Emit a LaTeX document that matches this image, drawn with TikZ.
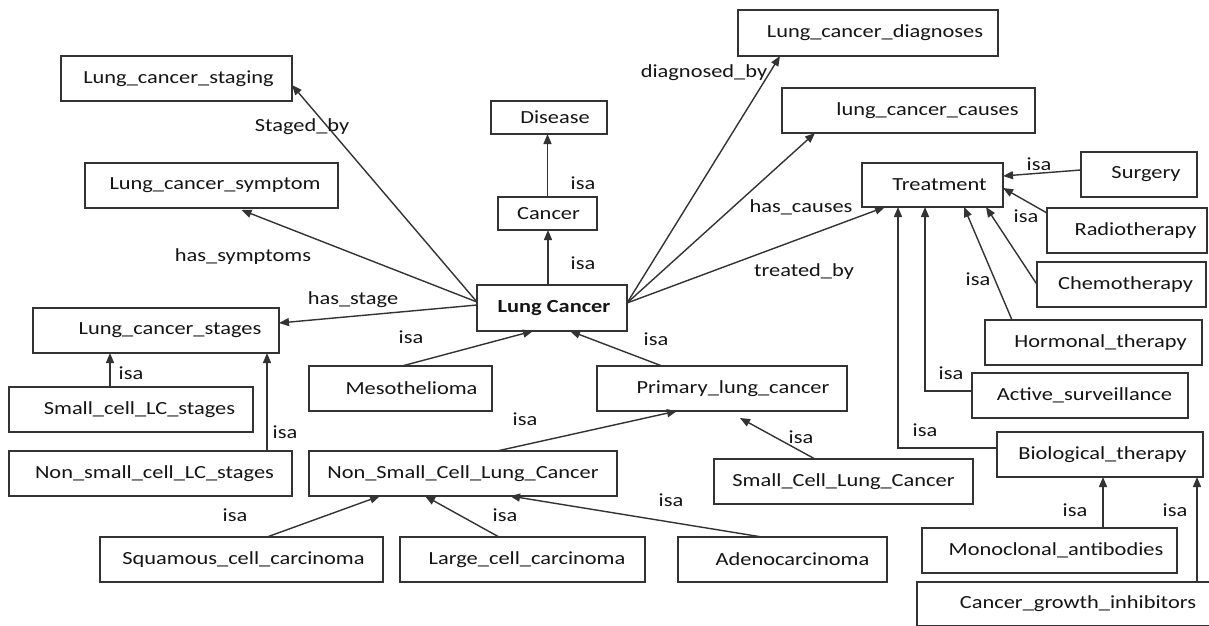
\documentclass[tikz,border=0pt]{standalone}
\usepackage{fontspec}
\setmainfont{Carlito}[FakeStretch=1.21]
\usetikzlibrary{arrows.meta}
\definecolor{ln}{HTML}{333333}
\definecolor{tx}{HTML}{151515}
\tikzset{
 bx/.style={draw=ln, line width=1.4pt, inner sep=0pt, outer sep=0pt, text=tx, font=\fontsize{18.5}{22}\selectfont},
 lbl/.style={inner sep=0pt, text=tx, font=\fontsize{18.5}{22}\selectfont},
 arr/.style={draw=ln, line width=1.4pt, -{Triangle[length=10pt,width=8pt]}},
 elb/.style={draw=ln, line width=1.4pt, -{Triangle[length=10pt,width=8pt]}, rounded corners=0pt},
}
% name, x1, y1, x2, y2, left space (2*offset), text
\newcommand{\bx}[7]{\node[bx, minimum width={#4-#2}, minimum height={#5-#3}] (#1) at ({(#2+#4)/2},{(#3+#5)/2}) {\hspace*{#6pt}#7};}
\begin{document}
\begin{tikzpicture}[x=1pt,y=-1pt]
\useasboundingbox (0,0) rectangle (1209,625);
\clip (0,0) rectangle (1209,625);
\fill[white] (0,0) rectangle (1209,625);
% boxes
\bx{stag}{61}{56}{292}{101}{4}{Lung\_cancer\_staging}
\bx{symp}{85}{163}{338}{208}{7}{Lung\_cancer\_symptom}
\bx{dis}{491}{101}{607}{134}{12}{Disease}
\bx{can}{498}{197}{597}{230}{2}{Cancer}
\bx{diag}{738}{10}{998}{56}{14}{Lung\_cancer\_diagnoses}
\bx{caus}{782}{88}{1035}{133}{38}{lung\_cancer\_causes}
\bx{treat}{862}{163}{1003}{207}{14}{Treatment}
\bx{surg}{1081}{152}{1197}{197}{14}{Surgery}
\bx{radio}{1047}{208}{1207}{253}{17}{Radiotherapy}
\bx{chemo}{1037}{262}{1206}{307}{8}{Chemotherapy}
\bx{horm}{985}{320}{1202}{365}{14}{Hormonal\_therapy}
\bx{act}{972}{373}{1188}{418}{9}{Active\_surveillance}
\bx{bio}{997}{432}{1203}{477}{5}{Biological\_therapy}
\bx{mono}{922}{528}{1177}{573}{13}{Monoclonal\_antibodies}
\bx{cgi}{917}{582}{1239}{626}{0}{Cancer\_growth\_inhibitors}
\bx{LC}{477}{285}{627}{331}{4}{\bfseries Lung Cancer}
\bx{stages}{33}{308}{279}{353}{28}{Lung\_cancer\_stages}
\bx{scs}{9}{387}{253}{432}{17}{Small\_cell\_LC\_stages}
\bx{nss}{9}{451}{292}{496}{8}{Non\_small\_cell\_LC\_stages}
\bx{meso}{309}{366}{492}{411}{22}{Mesothelioma}
\bx{prim}{597}{366}{847}{411}{22}{Primary\_lung\_cancer}
\bx{nsclc}{309}{451}{617}{496}{0}{Non\_Small\_Cell\_Lung\_Cancer}
\bx{sclc}{714}{459}{973}{504}{0}{Small\_Cell\_Lung\_Cancer}
\bx{squam}{100}{537}{383}{582}{4}{Squamous\_cell\_carcinoma}
\bx{large}{400}{537}{645}{582}{9}{Large\_cell\_carcinoma}
\bx{adeno}{678}{537}{887}{582}{20}{Adenocarcinoma}
% connectors from Lung Cancer
\draw[arr] ([yshift=6pt]LC.west) -- ([yshift=-6.5pt]stag.east);
\draw[arr] ([yshift=6pt]LC.west) -- ([xshift=30pt,yshift=-2pt]symp.south);
\draw[arr] ([yshift=3pt]LC.west) -- ([yshift=7.5pt]stages.east);
\draw[arr] ([xshift=-4pt]LC.north) -- ([xshift=-4pt]LC.north |- can.south);
\draw[arr] (can.north) -- (can.north |- dis.south);
\draw[arr] ([yshift=5pt]LC.east) -- ([xshift=-88pt]diag.south);
\draw[arr] ([yshift=5pt]LC.east) -- ([xshift=33pt]caus.south west);
\draw[arr] ([yshift=5pt]LC.east) -- ([xshift=23pt]treat.south west);
% treatment subclasses
\draw[arr] ([yshift=4.5pt]surg.west) -- ([yshift=9pt]treat.east);
\draw[arr] ([yshift=-5pt]radio.north west) -- ([yshift=-3pt]treat.east);
\draw[arr] (chemo.west) -- ([xshift=124pt]treat.south west);
\draw[arr] ([xshift=27pt]horm.north west) -- ([xshift=102pt]treat.south west);
\draw[elb] ([yshift=4.5pt]act.west) -| ([xshift=63pt]treat.south west);
\draw[elb] ([yshift=6.5pt]bio.west) -| ([xshift=36pt]treat.south west);
\draw[arr] ([xshift=3pt]bio.south |- mono.north) -- ([xshift=3pt]bio.south);
\draw[arr] ([xshift=-6pt]bio.south east |- cgi.north) -- ([xshift=-6pt]bio.south east);
% lung cancer subclasses
\draw[arr] ([xshift=1.5pt]meso.north) -- ([xshift=-19pt]LC.south);
\draw[arr] ([xshift=65pt]prim.north west) -- ([xshift=18pt]LC.south);
\draw[arr] ([xshift=188pt]nsclc.north west) -- ([xshift=80pt]prim.south west);
\draw[arr] ([xshift=101pt]sclc.north west) -- ([xshift=143pt,yshift=-7pt]prim.south west);
\draw[arr] ([xshift=167pt]squam.north west) -- ([xshift=71pt]nsclc.south west);
\draw[arr] ([xshift=99pt]large.north west) -- ([xshift=116pt]nsclc.south west);
\draw[arr] ([xshift=84pt]adeno.north west) -- ([xshift=201pt]nsclc.south west);
\draw[arr] ([xshift=101pt]scs.north west) -- ([xshift=101pt]scs.north west |- stages.south);
\draw[arr] ([xshift=258pt]nss.north west) -- ([xshift=258pt]nss.north west |- stages.south);
% labels
\node[lbl] (l1) at (302,127) {Staged\_by};
\node[lbl] (l2) at (243,257) {has\_symptoms};
\node[lbl] (l3) at (353,300) {has\_stage};
\node[lbl] (l4) at (583,183) {isa};
\node[lbl] (l5) at (583,263) {isa};
\node[lbl] (l6) at (704,73) {diagnosed\_by};
\node[lbl] (l7) at (801,207) {has\_causes};
\node[lbl] (l8) at (804,272) {treated\_by};
\node[lbl] (l9) at (1039,164) {isa};
\node[lbl] (l10) at (1026,216) {isa};
\node[lbl] (l11) at (978,279) {isa};
\node[lbl] (l12) at (951,373) {isa};
\node[lbl] (l13) at (925,430) {isa};
\node[lbl] (l14) at (1075,510) {isa};
\node[lbl] (l15) at (1175,510) {isa};
\node[lbl] (l16) at (411,337) {isa};
\node[lbl] (l17) at (656,339) {isa};
\node[lbl] (l18) at (525,419) {isa};
\node[lbl] (l19) at (801,437) {isa};
\node[lbl] (l20) at (235,515) {isa};
\node[lbl] (l21) at (505,515) {isa};
\node[lbl] (l22) at (671,500) {isa};
\node[lbl] (l23) at (131,373) {isa};
\node[lbl] (l24) at (285,432) {isa};
\end{tikzpicture}
\end{document}
